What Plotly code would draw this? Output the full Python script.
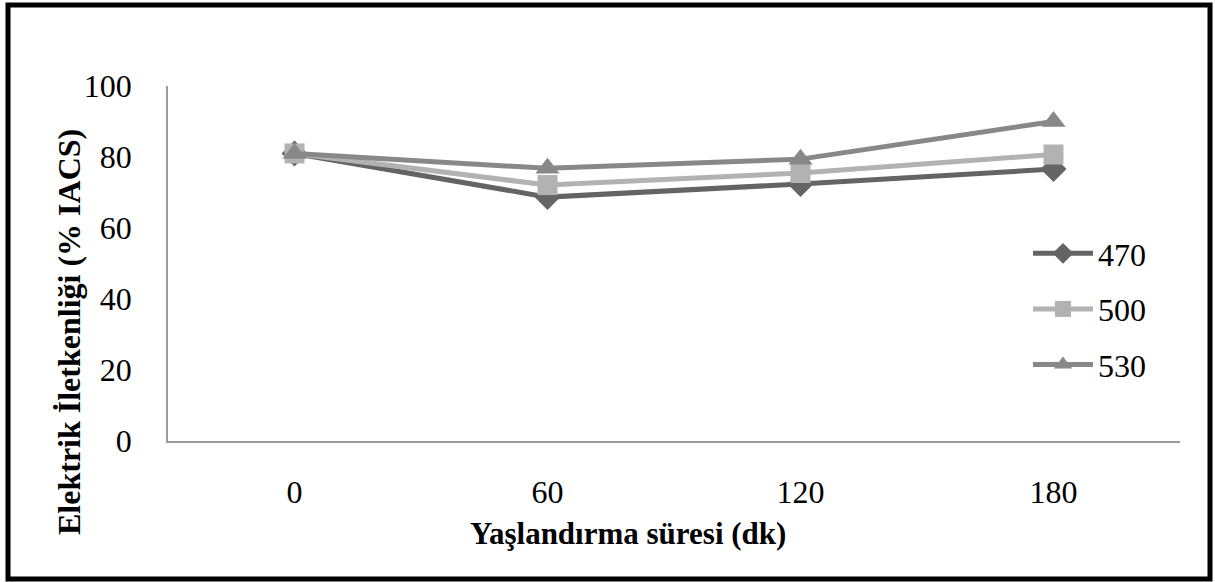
import plotly.graph_objects as go

categories = ["0", "60", "120", "180"]
series_names = ["470", "500", "530"]
vals_470 = [81.0, 68.7, 72.4, 76.6]
vals_500 = [81.0, 72.1, 75.5, 80.7]
vals_530 = [81.0, 76.8, 79.4, 90.0]
y_ticks = [0, 20, 40, 60, 80, 100]

colors = ["#646464", "#b2b2b2", "#888888"]
symbols = ["diamond", "square", "triangle-up"]
msizes = [20, 20, 21]

SERIF = "Liberation Serif, Times New Roman, serif"

fig = go.Figure()
for name, vals, c, s, ms in zip(series_names, [vals_470, vals_500, vals_530], colors, symbols, msizes):
    fig.add_trace(go.Scatter(
        x=categories, y=vals, name=name, mode="lines+markers", legendgroup=name,
        line=dict(color=c, width=5),
        marker=dict(symbol=s, size=ms, color=c),
    ))

W, H = 1215, 582
L, R, T, B = 168, 35, 86, 141
pw, ph = W - L - R, H - T - B

def px(x):
    return (x - L) / pw

def py(y):
    return (H - B - y) / ph

fig.update_layout(
    width=W, height=H,
    margin=dict(l=L, r=R, t=T, b=B),
    paper_bgcolor="white", plot_bgcolor="white",
    font=dict(family=SERIF, size=32, color="black"),
    showlegend=True,
    legend=dict(x=px(1028), y=py(226), xanchor="left", yanchor="top",
                font=dict(family=SERIF, size=32, color="black"),
                bgcolor="rgba(0,0,0,0)", tracegroupgap=11, itemwidth=60),
    xaxis=dict(type="category", range=[-0.5, 3.5], showgrid=False, showline=True,
               linecolor="#9a9a9a", linewidth=1.5, ticks="", ticklabelstandoff=22,
               zeroline=False, tickfont=dict(family=SERIF, size=32, color="black")),
    yaxis=dict(range=[0, 100], tickvals=y_ticks, showgrid=False, showline=True,
               linecolor="#9a9a9a", linewidth=1.5, ticks="", ticklabelstandoff=28,
               zeroline=False, tickfont=dict(family=SERIF, size=32, color="black")),
    shapes=[dict(type="rect", xref="paper", yref="paper",
                 x0=px(8), x1=px(1210), y0=py(579), y1=py(5),
                 line=dict(color="black", width=5))],
    annotations=[
        dict(text="<b>Elektrik İletkenliği (% IACS)</b>", xref="paper", yref="paper",
             x=px(69), y=py(332), xanchor="center", yanchor="middle",
             textangle=-90, showarrow=False,
             font=dict(family=SERIF, size=32, color="black")),
        dict(text="<b>Yaşlandırma süresi (dk)</b>", xref="paper", yref="paper",
             x=px(628), y=py(533), xanchor="center", yanchor="middle", showarrow=False,
             font=dict(family=SERIF, size=31, color="black")),
    ],
)

fig.write_html("out.html", config={"displayModeBar": False},
               post_script="document.body.style.margin='0';document.body.style.overflow='hidden';")
